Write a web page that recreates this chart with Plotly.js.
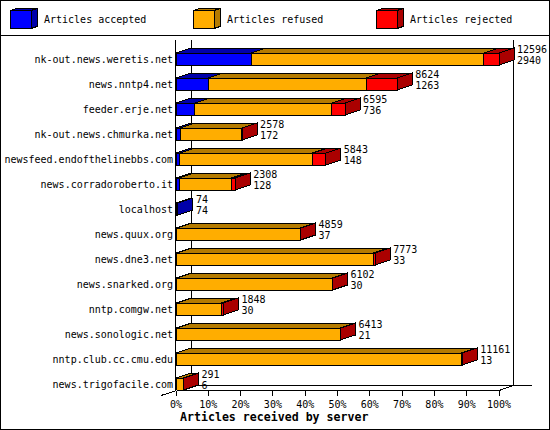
<!DOCTYPE html>
<html>
<head>
<meta charset="utf-8">
<script src="https://cdn.plot.ly/plotly-3.0.1.min.js"></script>
<style>
html,body{margin:0;padding:0;background:#fff}
#chart{width:550px;height:430px}
#chart path{shape-rendering:crispEdges}
</style>
</head>
<body>
<div id="chart"></div>
<script>
const servers = ["nk-out.news.weretis.net","news.nntp4.net","feeder.erje.net","nk-out.news.chmurka.net","newsfeed.endofthelinebbs.com","news.corradoroberto.it","localhost","news.quux.org","news.dne3.net","news.snarked.org","nntp.comgw.net","news.sonologic.net","nntp.club.cc.cmu.edu","news.trigofacile.com"];
const totals   = [12596,8624,6595,2578,5843,2308,74,4859,7773,6102,1848,6413,11161,291];
const accepted = [2940,1263,736,172,148,128,74,37,33,30,30,21,13,6];
const rejected = [586,1210,520,12,520,140,0,5,90,5,80,5,30,1];
const refused  = [9070,6151,5339,2394,5175,2040,0,4817,7650,6067,1738,6387,11118,284];
const pctTicks = [0,10,20,30,40,50,60,70,80,90,100];
const legendNames = ["Articles accepted","Articles refused","Articles rejected"];
const frontColors = ["#0000ff","#ffad00","#ff0000"];
const darkColors  = ["#0000aa","#b57b00","#aa0000"];

const W=550,H=430,L=176,R=499,T=40,B=390;
const maxTotal=Math.max(...totals);
const unitsPerPx=maxTotal/(R-L), rowPx=25;
const depthX=15*unitsPerPx, depthY=5/rowPx, barW=12/rowPx;
const px=x=>(x-L)/(W-L), py=y=>(B-y)/(B-T);
const seriesVals=[accepted,refused,rejected];

const traces=[];
seriesVals.forEach((vals,s)=>{
  traces.push({type:'bar',orientation:'h',x:vals,y:servers.map((_,i)=>i),width:barW,name:legendNames[s],
    marker:{color:frontColors[s],line:{color:'#000',width:1}},hoverinfo:'skip',showlegend:false});
});
// 3-D top faces of each segment and side face at the end of each bar, all in data units
seriesVals.forEach((vals,s)=>{
  const xs=[],ys=[];
  vals.forEach((v,i)=>{
    if(v<=0) return;
    let x0=0; for(let k=0;k<s;k++) x0+=seriesVals[k][i];
    const x1=x0+v, t=i-barW/2;
    xs.push(x0,x1,x1+depthX,x0+depthX,x0,null);
    ys.push(t,t,t-depthY,t-depthY,t,null);
  });
  traces.push({type:'scatter',mode:'lines',x:xs,y:ys,fill:'toself',fillcolor:darkColors[s],
    line:{color:'#000',width:1},cliponaxis:false,hoverinfo:'skip',showlegend:false});
});
seriesVals.forEach((vals,s)=>{
  const xs=[],ys=[];
  vals.forEach((v,i)=>{
    if(v<=0) return;
    if(s<2 && seriesVals.slice(s+1).some(o=>o[i]>0)) return;
    const e=accepted[i]+refused[i]+rejected[i], t=i-barW/2, b=i+barW/2;
    xs.push(e,e+depthX,e+depthX,e,e,null);
    ys.push(t,t-depthY,b-depthY,b,t,null);
  });
  traces.push({type:'scatter',mode:'lines',x:xs,y:ys,fill:'toself',fillcolor:darkColors[s],
    line:{color:'#000',width:1},cliponaxis:false,hoverinfo:'skip',showlegend:false});
});
const labelFont={family:'"DejaVu Sans Mono",monospace',size:10,color:'#000'};
const labelX=totals.map(v=>v+depthX+3*unitsPerPx);
traces.push({type:'scatter',mode:'text',x:labelX,y:servers.map((_,i)=>i-9/rowPx),text:totals.map(String),
  textposition:'middle right',textfont:labelFont,cliponaxis:false,hoverinfo:'skip',showlegend:false});
traces.push({type:'scatter',mode:'text',x:labelX,y:servers.map((_,i)=>i+2/rowPx),text:accepted.map(String),
  textposition:'middle right',textfont:labelFont,cliponaxis:false,hoverinfo:'skip',showlegend:false});

const line=(x0,y0,x1,y1)=>({type:'line',xref:'paper',yref:'paper',x0:px(x0),y0:py(y0),x1:px(x1),y1:py(y1),
  line:{color:'#000',width:1},layer:'below'});
const shapes=[
  {type:'rect',xref:'paper',yref:'paper',x0:px(0.5),y0:py(0.5),x1:px(549.5),y1:py(429.5),line:{color:'#000',width:1},layer:'below'},
  line(0,35.5,550,35.5),
  line(191.5,T,191.5,385.5),
  line(513.5,T,513.5,385.5),
  line(191.5,385.5,532,385.5),
  line(176.5,390.5,499,390.5),
  line(176.5,390.5,161,395.5),
  line(499,390.5,513.5,385.5)
];
const annotations=[];
const legendX=[10,193,376];
legendNames.forEach((n,s)=>{
  const x=legendX[s];
  const poly=(pts,fill)=>({type:'path',xref:'paper',yref:'paper',layer:'above',fillcolor:fill,line:{color:'#000',width:1},
    path:pts.map((p,i)=>(i?'L':'M')+px(p[0])+','+py(p[1])).join(' ')+' Z'});
  shapes.push(poly([[x+.5,10.5],[x+21,10.5],[x+27,8.5],[x+6,8.5]],darkColors[s]));
  shapes.push(poly([[x+21,10.5],[x+27,8.5],[x+27,26.5],[x+21,28.5]],darkColors[s]));
  shapes.push(poly([[x+.5,10.5],[x+21,10.5],[x+21,28.5],[x+.5,28.5]],frontColors[s]));
  annotations.push({xref:'paper',yref:'paper',x:px(x+32),y:py(20),text:n,showarrow:false,xanchor:'left',yanchor:'middle',font:labelFont});
});
annotations.push({xref:'paper',yref:'paper',x:px(273.5),y:py(417),text:'<b>Articles received by server</b>',showarrow:false,
  xanchor:'center',yanchor:'middle',font:{family:'"DejaVu Sans Mono",monospace',size:11.6,color:'#000'}});

const layout={
  width:W,height:H,showlegend:false,barmode:'stack',
  paper_bgcolor:'#fff',plot_bgcolor:'#fff',
  margin:{l:L,r:0,t:T,b:H-B,pad:0,autoexpand:false},
  xaxis:{range:[0,maxTotal*(W-L)/(R-L)],tickmode:'array',tickvals:pctTicks.map(p=>p/100*maxTotal),ticktext:pctTicks.map(p=>p+'%'),
    ticks:'outside',ticklen:5,tickcolor:'#000',tickwidth:1,showgrid:false,zeroline:false,showline:false,
    tickfont:labelFont},
  yaxis:{range:[13.24,-0.76],tickmode:'array',tickvals:servers.map((_,i)=>i),ticktext:servers,ticks:'',showgrid:false,zeroline:false,
    showline:true,linecolor:'#000',linewidth:1,tickfont:labelFont},
  shapes,annotations
};
Plotly.newPlot('chart',traces,layout,{staticPlot:true,displayModeBar:false});
</script>
</body>
</html>
